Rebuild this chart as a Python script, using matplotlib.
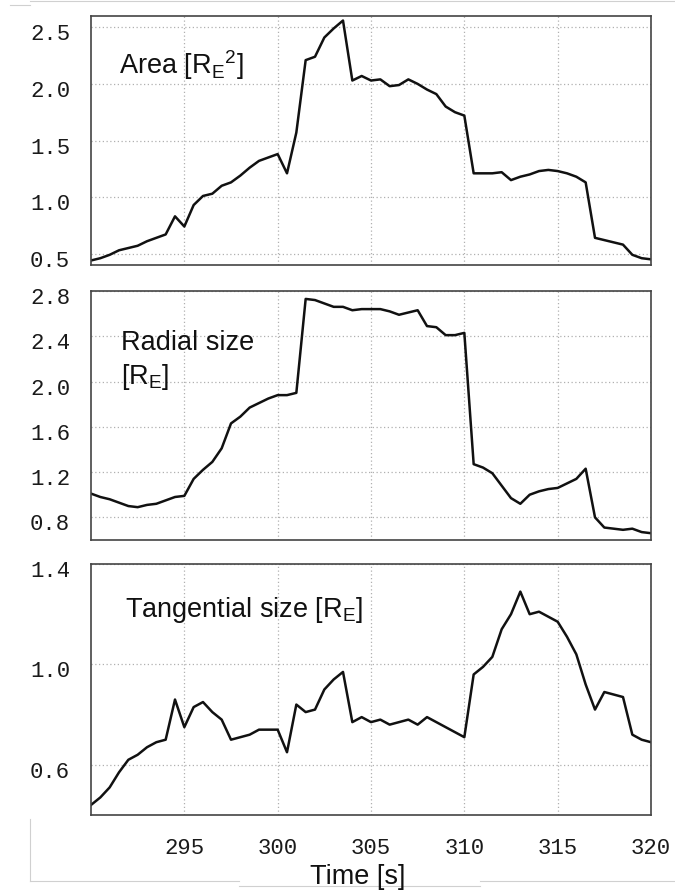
import matplotlib
matplotlib.use("Agg")
import matplotlib.pyplot as plt
import matplotlib.transforms as mtransforms
from matplotlib.lines import Line2D
import numpy as np

plt.rcParams["mathtext.fontset"] = "custom"
plt.rcParams["mathtext.rm"] = "Liberation Sans"
plt.rcParams["mathtext.it"] = "Liberation Sans:italic"

# time axis: 0.5 s sampling from 290 s to 320 s
time_s = np.arange(290.0, 320.01, 0.5)

area = [0.44, 0.46, 0.49, 0.53, 0.55, 0.57, 0.61, 0.64, 0.67, 0.83,
        0.74, 0.93, 1.01, 1.03, 1.10, 1.13, 1.19, 1.26, 1.32, 1.35,
        1.38, 1.21, 1.57, 2.21, 2.24, 2.41, 2.49, 2.56, 2.03, 2.07,
        2.03, 2.04, 1.98, 1.99, 2.04, 2.00, 1.95, 1.91, 1.80, 1.75,
        1.72, 1.21, 1.21, 1.21, 1.22, 1.15, 1.18, 1.20, 1.23, 1.24,
        1.23, 1.21, 1.18, 1.13, 0.64, 0.62, 0.60, 0.58, 0.49, 0.46,
        0.45]

radial = [1.01, 0.98, 0.96, 0.93, 0.90, 0.89, 0.91, 0.92, 0.95, 0.98,
          0.99, 1.14, 1.22, 1.29, 1.41, 1.63, 1.69, 1.77, 1.81, 1.85,
          1.88, 1.88, 1.90, 2.73, 2.72, 2.69, 2.66, 2.66, 2.63, 2.64,
          2.64, 2.64, 2.62, 2.59, 2.61, 2.63, 2.49, 2.48, 2.41, 2.41,
          2.43, 1.27, 1.24, 1.19, 1.08, 0.97, 0.92, 1.00, 1.03, 1.05,
          1.06, 1.10, 1.14, 1.23, 0.80, 0.71, 0.70, 0.69, 0.70, 0.67,
          0.66]

tangential = [0.44, 0.47, 0.51, 0.57, 0.62, 0.64, 0.67, 0.69, 0.70, 0.86,
              0.75, 0.83, 0.85, 0.81, 0.78, 0.70, 0.71, 0.72, 0.74, 0.74,
              0.74, 0.65, 0.84, 0.81, 0.82, 0.90, 0.94, 0.97, 0.77, 0.79,
              0.77, 0.78, 0.76, 0.77, 0.78, 0.76, 0.79, 0.77, 0.75, 0.73,
              0.71, 0.96, 0.99, 1.03, 1.14, 1.20, 1.29, 1.20, 1.21, 1.19,
              1.17, 1.11, 1.04, 0.92, 0.82, 0.89, 0.88, 0.87, 0.72, 0.70,
              0.69]

x_ticks = [295, 300, 305, 310, 315, 320]
area_ticks = [0.5, 1.0, 1.5, 2.0, 2.5]
radial_ticks = [0.8, 1.2, 1.6, 2.0, 2.4, 2.8]
tang_ticks = [0.6, 1.0, 1.4]

panels = [
    (area, (0.4, 2.6), area_ticks, "%.1f",
     ["Area [R$_\\mathrm{E}$$^\\mathrm{2}$]"], 0.771),
    (radial, (0.6, 2.8), radial_ticks, "%.1f",
     ["Radial size", "[R$_\\mathrm{E}$]"], 0.767),
    (tangential, (0.4, 1.4), tang_ticks, "%.1f",
     ["Tangential size [R$_\\mathrm{E}$]"], 0.793),
]

W, H = 675, 895
fig = plt.figure(figsize=(W / 100, H / 100), dpi=100)

# axes boxes in pixels: (left, top, right, bottom)
boxes = [(91, 17, 651, 266), (91, 292, 651, 541), (91, 565, 651, 816)]
label_x = [119, 121, 125]

sans = "Liberation Sans"
mono = "Liberation Mono"

for i, ((vals, ylim, yt, fmt, lines, base_y), box, lx) in enumerate(
        zip(panels, boxes, label_x)):
    l, t, r, b = box
    ax = fig.add_axes([l / W, 1 - b / H, (r - l) / W, (b - t) / H])
    ax.plot(time_s, vals, color="#111111", lw=1.8, solid_joinstyle="round")
    ax.set_xlim(290, 320)
    ax.set_ylim(*ylim)
    ax.set_xticks(x_ticks)
    ax.set_yticks(yt)
    ax.set_yticklabels([fmt % v for v in yt], family=mono, fontsize=16,
                       color="#1a1a1a")
    if i == 2:
        ax.set_xticklabels([str(v) for v in x_ticks], family=mono,
                           fontsize=16, color="#1a1a1a")
    else:
        ax.set_xticklabels([])
    ax.tick_params(length=0, pad=15)
    ax.tick_params(axis="x", pad=16)
    ax.grid(True, color="#b0b0b0", lw=0.9, linestyle=(0, (1, 2)))
    for sp in ax.spines.values():
        sp.set_color("#444444")
        sp.set_linewidth(1.2)
    # tick labels in the reference sit a few pixels below the grid lines
    off = mtransforms.ScaledTranslation(0, -4 / 100, fig.dpi_scale_trans)
    for lab in ax.get_yticklabels():
        lab.set_transform(lab.get_transform() + off)
    fx = (lx - l) / (r - l)
    for k, txt in enumerate(lines):
        ax.text(fx, base_y - k * 0.137, txt, transform=ax.transAxes,
                family=sans, fontsize=19.5, va="baseline", ha="left",
                color="#111111")

fig.text(358 / W, 1 - 884 / H, "Time [s]", family=sans, fontsize=19.5,
         ha="center", va="baseline", color="#111111")

# faint page-edge lines visible in the reference
edge = "#d0d0d0"
for xs, ys in [((30, 675), (2, 2)), ((10, 30), (6, 6)),
               ((30, 239), (882, 882)), ((239, 480), (887, 887)),
               ((480, 675), (882, 882)), ((30, 30), (820, 882))]:
    fig.add_artist(Line2D([x / W for x in xs], [1 - y / H for y in ys],
                          color=edge, lw=0.8, transform=fig.transFigure))

fig.savefig("out.png", dpi=100)
